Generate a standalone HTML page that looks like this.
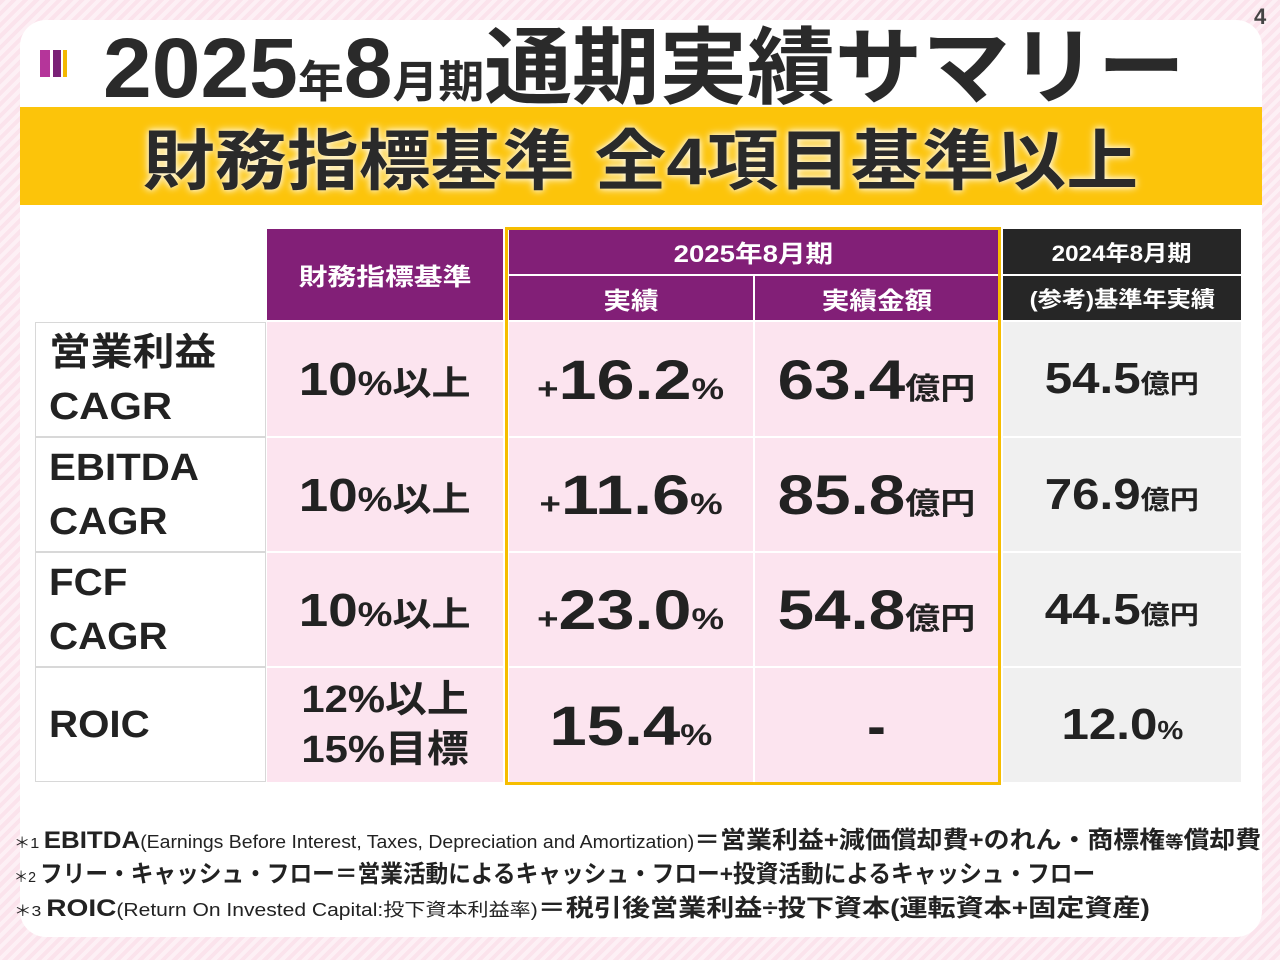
<!DOCTYPE html>
<html><head><meta charset="utf-8"><style>
*{margin:0;padding:0;box-sizing:border-box}
body{width:1280px;height:960px;position:relative;overflow:hidden;font-family:"Liberation Sans","Noto Sans CJK JP",sans-serif;font-weight:bold;color:#222;
background:repeating-linear-gradient(135deg,#fbe3ec 0 4px,#fdf0f5 4px 8px)}
.a{position:absolute}
.c{position:absolute;display:flex;align-items:center;justify-content:center;white-space:nowrap}
.panel{left:20px;top:20px;width:1242px;height:917px;background:#fff;border-radius:26px}
.t{display:inline-block}
.pu{background:#821f77;color:#fff}
.bk{background:#262626;color:#fff}
.pk{background:#fce4ef}
.gy{background:#f0f0f0}
.lb{background:#fff;border:1.5px solid #d8d8d8;justify-content:flex-start;padding-left:13px;font-size:38px;line-height:54px}
.big{font-size:56px}
.sm{font-size:30px}
.note{left:14px;font-size:24px;white-space:nowrap;transform-origin:left center}
</style></head><body>
<div class="a panel"></div>
<div class="a" style="left:1254px;top:4px;font-size:22px;color:#444">4</div>
<div class="a" style="left:40px;top:50px;width:10px;height:27px;background:#b5359a"></div>
<div class="a" style="left:53px;top:50px;width:8px;height:27px;background:#7a2277"></div>
<div class="a" style="left:63px;top:50px;width:4px;height:27px;background:#f4b800"></div>
<div class="a" style="left:103px;top:18px;font-size:84px;line-height:100px;white-space:nowrap;transform-origin:left top;transform:scaleX(1.043);color:#2a2a2a">2025<span style="font-size:44px">年</span>8<span style="font-size:44px">月期</span>通期実績サマリー</div>
<div class="a" style="left:20px;top:107px;width:1242px;height:98px;background:#fcc40a"></div>
<div class="c" style="left:20px;top:107px;width:1242px;height:98px;font-size:66px;color:#2a2a2a;text-shadow:0 0 6px #fff,0 0 10px #fff8"><span class="t" style="transform:scaleX(1.09)">財務指標基準&nbsp;全4項目基準以上</span></div>

<div class="c pu" style="left:267px;top:229px;width:236px;height:91px;font-size:24px"><span class="t" style="transform:scaleX(1.2)">財務指標基準</span></div>
<div class="c pu" style="left:509px;top:229px;width:489px;height:45px;font-size:24px"><span class="t" style="transform:scaleX(1.15)">2025年8月期</span></div>
<div class="c pu" style="left:509px;top:276px;width:244px;height:44px;font-size:24px"><span class="t" style="transform:scaleX(1.15)">実績</span></div>
<div class="c pu" style="left:755px;top:276px;width:243px;height:44px;font-size:24px"><span class="t" style="transform:scaleX(1.15)">実績金額</span></div>
<div class="c bk" style="left:1003px;top:229px;width:238px;height:45px;font-size:22px"><span class="t" style="transform:scaleX(1.1)">2024年8月期</span></div>
<div class="c bk" style="left:1003px;top:276px;width:238px;height:44px;font-size:22px"><span class="t" style="transform:scaleX(1.1)">(参考)基準年実績</span></div>

<div class="c lb" style="left:35px;top:322px;width:231px;height:115px"><span class="t" style="transform-origin:left;transform:scaleX(1.1)">営業利益<br>CAGR</span></div>
<div class="c lb" style="left:35px;top:437px;width:231px;height:115px"><span class="t" style="transform-origin:left;transform:scaleX(1.06)">EBITDA<br>CAGR</span></div>
<div class="c lb" style="left:35px;top:552px;width:231px;height:115px"><span class="t" style="transform-origin:left;transform:scaleX(1.06)">FCF<br>CAGR</span></div>
<div class="c lb" style="left:35px;top:667px;width:231px;height:115px"><span class="t" style="transform-origin:left;transform:scaleX(1.06)">ROIC</span></div>

<div class="c pk" style="left:267px;top:322px;width:236px;height:114px;font-size:46px"><span class="t" style="transform:scaleX(1.15)">10<span style="font-size:34px">%以上</span></span></div>
<div class="c pk" style="left:267px;top:438px;width:236px;height:113px;font-size:46px"><span class="t" style="transform:scaleX(1.15)">10<span style="font-size:34px">%以上</span></span></div>
<div class="c pk" style="left:267px;top:553px;width:236px;height:113px;font-size:46px"><span class="t" style="transform:scaleX(1.15)">10<span style="font-size:34px">%以上</span></span></div>
<div class="c pk" style="left:267px;top:668px;width:236px;height:114px;font-size:38px;line-height:50px"><span class="t" style="transform:scaleX(1.1)">12%以上<br>15%目標</span></div>

<div class="c pk" style="left:509px;top:322px;width:244px;height:114px"><span class="t big" style="transform:scaleX(1.22)"><span class="sm">+</span>16.2<span class="sm">%</span></span></div>
<div class="c pk" style="left:509px;top:438px;width:244px;height:113px"><span class="t big" style="transform:scaleX(1.22)"><span class="sm">+</span>11.6<span class="sm">%</span></span></div>
<div class="c pk" style="left:509px;top:553px;width:244px;height:113px"><span class="t big" style="transform:scaleX(1.22)"><span class="sm">+</span>23.0<span class="sm">%</span></span></div>
<div class="c pk" style="left:509px;top:668px;width:244px;height:114px"><span class="t big" style="transform:scaleX(1.2)">15.4<span class="sm">%</span></span></div>

<div class="c pk" style="left:755px;top:322px;width:243px;height:114px"><span class="t big" style="transform:scaleX(1.17)">63.4<span class="sm">億円</span></span></div>
<div class="c pk" style="left:755px;top:438px;width:243px;height:113px"><span class="t big" style="transform:scaleX(1.17)">85.8<span class="sm">億円</span></span></div>
<div class="c pk" style="left:755px;top:553px;width:243px;height:113px"><span class="t big" style="transform:scaleX(1.17)">54.8<span class="sm">億円</span></span></div>
<div class="c pk" style="left:755px;top:668px;width:243px;height:114px"><span class="t big">-</span></div>

<div class="c gy" style="left:1003px;top:322px;width:238px;height:114px;font-size:44px"><span class="t" style="transform:scaleX(1.12)">54.5<span style="font-size:26px">億円</span></span></div>
<div class="c gy" style="left:1003px;top:438px;width:238px;height:113px;font-size:44px"><span class="t" style="transform:scaleX(1.12)">76.9<span style="font-size:26px">億円</span></span></div>
<div class="c gy" style="left:1003px;top:553px;width:238px;height:113px;font-size:44px"><span class="t" style="transform:scaleX(1.12)">44.5<span style="font-size:26px">億円</span></span></div>
<div class="c gy" style="left:1003px;top:668px;width:238px;height:114px;font-size:44px"><span class="t" style="transform:scaleX(1.12)">12.0<span style="font-size:26px">%</span></span></div>

<div class="a" style="left:505px;top:227px;width:496px;height:558px;border:3.5px solid #f6bd00"></div>

<div class="a note" style="top:820px;transform:scaleX(1.08)"><span style="font-size:15px;font-weight:normal">＊1 </span>EBITDA<span style="font-size:18px;font-weight:normal">(Earnings Before Interest, Taxes, Depreciation and Amortization)</span>＝営業利益+減価償却費+のれん・商標権<span style="font-size:17px">等</span>償却費</div>
<div class="a note" style="top:854px;transform:scaleX(.945)"><span style="font-size:15px;font-weight:normal">＊2 </span>フリー・キャッシュ・フロー＝営業活動によるキャッシュ・フロー+投資活動によるキャッシュ・フロー</div>
<div class="a note" style="top:888px;transform:scaleX(1.17)"><span style="font-size:15px;font-weight:normal">＊3 </span>ROIC<span style="font-size:18px;font-weight:normal">(Return On Invested Capital:投下資本利益率)</span>＝税引後営業利益÷投下資本(運転資本+固定資産)</div>
</body></html>
